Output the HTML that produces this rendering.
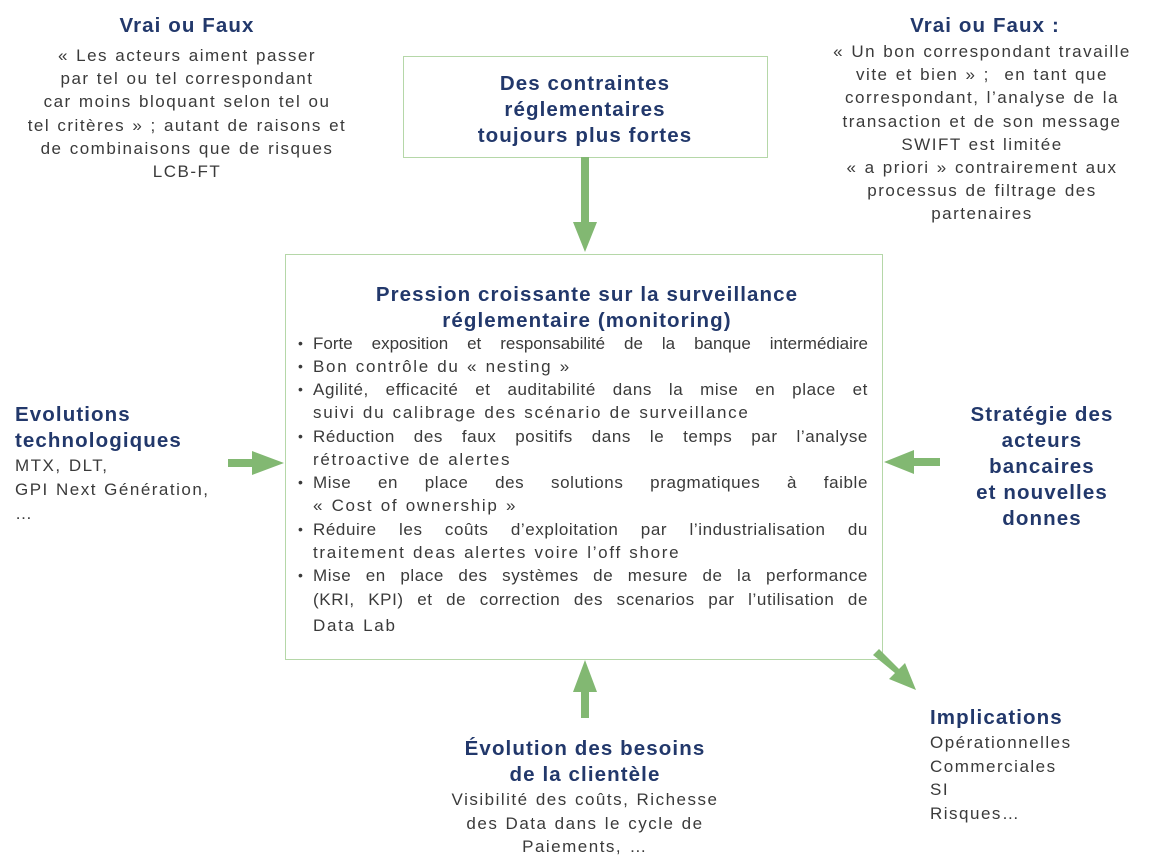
<!DOCTYPE html>
<html><head><meta charset="utf-8"><style>
body{margin:0;width:1170px;height:866px;background:#fff;position:relative;overflow:hidden;font-family:"Liberation Sans",sans-serif;color:#3a3a3a}
.a{position:absolute;white-space:nowrap}
.t{color:#22386b;font-weight:bold;font-size:20.5px;letter-spacing:1.1px}
.b{font-size:17px;letter-spacing:1.5px;word-spacing:1px}
.c{transform:translateX(-50%);text-align:center}
.box{position:absolute;border:1.3px solid #b5d7a8}
.j{position:absolute;left:313px;width:555px;font-size:17px;letter-spacing:0.6px;text-align:justify;text-align-last:justify;white-space:nowrap}
.j.n{text-align-last:left;letter-spacing:1.7px;word-spacing:1px}
.d{position:absolute;left:298px;font-size:14px}
</style></head><body>
<div class="a t c" style="left:187px;top:14px">Vrai ou Faux</div>
<div class="a b c" style="left:187px;top:44px;line-height:23.2px">« Les acteurs aiment passer<br>par tel ou tel correspondant<br>car moins bloquant selon tel ou<br>tel critères » ; autant de raisons et<br>de combinaisons que de risques<br>LCB-FT</div>

<div class="a t c" style="left:985px;top:14px">Vrai ou Faux :</div>
<div class="a b c" style="left:982px;top:40px;line-height:23.2px">« Un bon correspondant travaille<br>vite et bien » ;&nbsp; en tant que<br>correspondant, l’analyse de la<br>transaction et de son message<br>SWIFT est limitée<br>« a priori » contrairement aux<br>processus de filtrage des<br>partenaires</div>

<div class="box" style="left:403px;top:56px;width:363px;height:100px"></div>
<div class="a t c" style="left:585px;top:71px;line-height:26px">Des contraintes<br>réglementaires<br>toujours plus fortes</div>

<div class="box" style="left:285px;top:254px;width:596px;height:404px"></div>
<div class="a t c" style="left:587px;top:282px;line-height:26px">Pression croissante sur la surveillance<br>réglementaire (monitoring)</div>
<div class="j" style="top:334px;letter-spacing:0">Forte exposition et responsabilité de la banque intermédiaire</div>
<div class="j n" style="top:357px">Bon contrôle du « nesting »</div>
<div class="j" style="top:380px">Agilité, efficacité et auditabilité dans la mise en place et</div>
<div class="j n" style="top:403px">suivi du calibrage des scénario de surveillance</div>
<div class="j" style="top:427px">Réduction des faux positifs dans le temps par l’analyse</div>
<div class="j n" style="top:450px">rétroactive de alertes</div>
<div class="j" style="top:473px">Mise en place des solutions pragmatiques à faible</div>
<div class="j n" style="top:496px">« Cost of ownership »</div>
<div class="j" style="top:520px">Réduire les coûts d’exploitation par l’industrialisation du</div>
<div class="j n" style="top:543px">traitement deas alertes voire l’off shore</div>
<div class="j" style="top:566px">Mise en place des systèmes de mesure de la performance</div>
<div class="j" style="top:590px">(KRI, KPI) et de correction des scenarios par l’utilisation de</div>
<div class="j n" style="top:616px">Data Lab</div>
<div class="d" style="top:335px">•</div><div class="d" style="top:358px">•</div><div class="d" style="top:381px">•</div><div class="d" style="top:428px">•</div><div class="d" style="top:474px">•</div><div class="d" style="top:521px">•</div><div class="d" style="top:567px">•</div>

<div class="a t" style="left:15px;top:402px;line-height:26px">Evolutions<br>technologiques</div>
<div class="a b" style="left:15px;top:454px;line-height:24px">MTX, DLT,<br>GPI Next Génération,<br>…</div>

<div class="a t c" style="left:1042px;top:402px;line-height:26px">Stratégie des<br>acteurs<br>bancaires<br>et nouvelles<br>donnes</div>

<div class="a t c" style="left:585px;top:736px;line-height:26px">Évolution des besoins<br>de la clientèle</div>
<div class="a b c" style="left:585px;top:788px;line-height:23.5px">Visibilité des coûts, Richesse<br>des Data dans le cycle de<br>Paiements, …</div>

<div class="a t" style="left:930px;top:706px">Implications</div>
<div class="a b" style="left:930px;top:731px;line-height:23.5px">Opérationnelles<br>Commerciales<br>SI<br>Risques…</div>

<svg style="position:absolute;left:0;top:0" width="1170" height="866">
<g fill="#82b872">
<polygon points="581,157 589,157 589,222 597,222 585,252 573,222 581,222"/>
<polygon points="228,459 252,459 252,451 284,463 252,475 252,467 228,467"/>
<polygon points="940,458 914,458 914,450 884,462 914,474 914,466 940,466"/>
<polygon points="581,718 589,718 589,692 597,692 585,660 573,692 581,692"/>
<polygon points="873,655 879,649 899,669 905,663 916,690 889,679 895,673"/>
</g></svg>
</body></html>
